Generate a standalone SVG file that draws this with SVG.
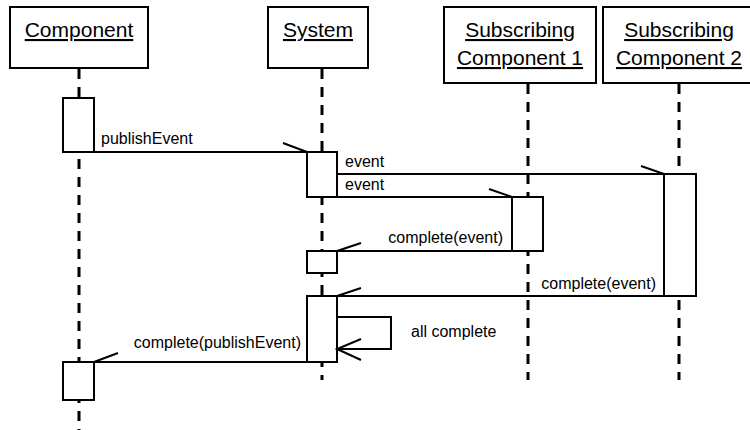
<svg xmlns="http://www.w3.org/2000/svg" width="750" height="430" viewBox="0 0 750 430">
<style>
.hdr{fill:#fff;stroke:#000;stroke-width:2}
.ht{font-family:"Liberation Sans",Arial,sans-serif;font-size:21px;fill:#000;text-anchor:middle;text-decoration:underline}
.life{stroke:#000;stroke-width:3;stroke-dasharray:10 8;fill:none}
.act{fill:#fff;stroke:#000;stroke-width:2}
.msg{stroke:#000;stroke-width:2;fill:none}
.lbl{font-family:"Liberation Sans",Arial,sans-serif;font-size:16px;fill:#000}
.r{text-anchor:end}
</style>
<rect width="750" height="430" fill="#fff"/>
<g id="lifelines">
<line class="life" x1="79" y1="69" x2="79" y2="430"/>
<line class="life" x1="322" y1="69" x2="322" y2="380"/>
<line class="life" x1="528" y1="84" x2="528" y2="380"/>
<line class="life" x1="679" y1="84" x2="679" y2="380"/>
</g>
<g id="component">
<rect class="hdr" x="10" y="7" width="138" height="61"/>
<text class="ht" x="79" y="37">Component</text>
</g>
<g id="system">
<rect class="hdr" x="268" y="7" width="100" height="61"/>
<text class="ht" x="318" y="37">System</text>
</g>
<g id="sub1">
<rect class="hdr" x="444" y="7" width="152" height="76"/>
<text class="ht" x="520" y="37">Subscribing</text>
<text class="ht" x="520" y="65">Component 1</text>
</g>
<g id="sub2">
<rect class="hdr" x="603" y="7" width="160" height="76"/>
<text class="ht" x="679" y="37">Subscribing</text>
<text class="ht" x="679" y="65">Component 2</text>
</g>
<g id="activations">
<rect class="act" x="63" y="98" width="31" height="54"/>
<rect class="act" x="307" y="152" width="30" height="45"/>
<rect class="act" x="664" y="174" width="32" height="122"/>
<rect class="act" x="512" y="197" width="31" height="54"/>
<rect class="act" x="307" y="251" width="30" height="22"/>
<rect class="act" x="307" y="296" width="30" height="66"/>
<rect class="act" x="63" y="362" width="31" height="38"/>
</g>
<g id="connectors">
<path class="msg" d="M94 152H307M283 143L307 152"/>
<path class="msg" d="M337 174H664M641 166L664 174"/>
<path class="msg" d="M337 197H512M489 189L512 197"/>
<path class="msg" d="M512 251H337M361 243L337 251"/>
<path class="msg" d="M664 296H337M361 288L337 296"/>
<path class="msg" d="M337 317H391V349H337M361 339L337 349L361 360"/>
<path class="msg" d="M307 362H94M118 353L94 362"/>
</g>
<g id="labels">
<text class="lbl" x="101" y="144">publishEvent</text>
<text class="lbl" x="345" y="167">event</text>
<text class="lbl" x="345" y="190">event</text>
<text class="lbl r" x="503" y="243">complete(event)</text>
<text class="lbl r" x="656" y="289">complete(event)</text>
<text class="lbl" x="411" y="337">all complete</text>
<text class="lbl r" x="301" y="348">complete(publishEvent)</text>
</g>
</svg>
